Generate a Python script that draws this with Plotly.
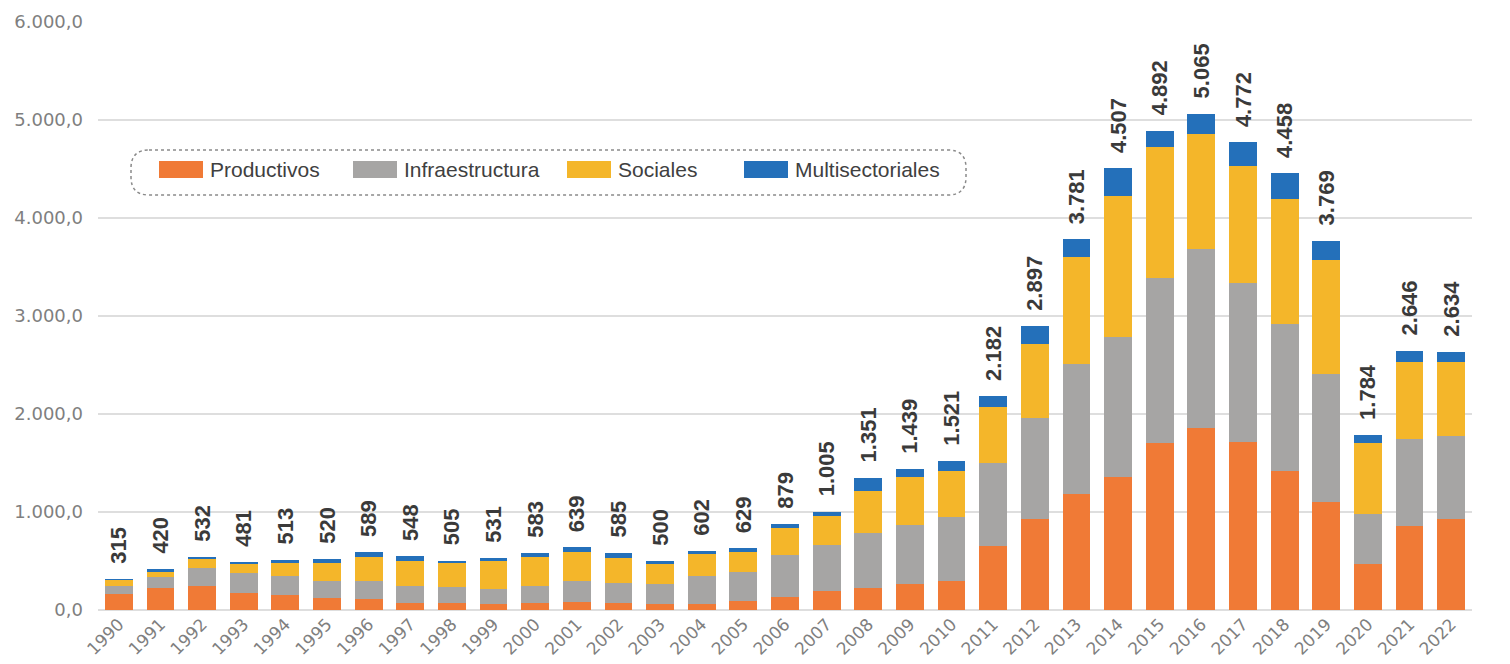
import plotly.graph_objects as go

years = [str(y) for y in range(1990, 2023)]
productivos = [165, 228, 245, 170, 153, 126, 109, 75, 75, 61, 75, 85, 75, 61, 65, 92, 136, 190, 228, 269, 296,
               656, 928, 1186, 1360, 1707, 1860, 1717, 1421, 1105, 472, 860, 928]
infraestructura = [80, 112, 180, 211, 197, 167, 190, 173, 156, 157, 173, 208, 200, 208, 278, 299, 428, 473, 561, 598, 656,
                   840, 1028, 1321, 1429, 1684, 1820, 1623, 1497, 1300, 511, 882, 851]
sociales = [65, 52, 98, 95, 133, 190, 245, 249, 252, 279, 296, 299, 255, 197, 225, 201, 276, 296, 425, 487, 466,
            571, 755, 1092, 1440, 1336, 1180, 1187, 1280, 1166, 724, 785, 755]
multisectoriales = [5, 28, 9, 5, 30, 37, 45, 51, 22, 34, 39, 47, 55, 34, 34, 37, 39, 46, 137, 85, 103,
                    115, 186, 182, 278, 165, 205, 245, 260, 198, 77, 119, 100]
totales = [315, 420, 532, 481, 513, 520, 589, 548, 505, 531, 583, 639, 585, 500, 602, 629, 879, 1005, 1351, 1439, 1521,
           2182, 2897, 3781, 4507, 4892, 5065, 4772, 4458, 3769, 1784, 2646, 2634]
series_names = ["Productivos", "Infraestructura", "Sociales", "Multisectoriales"]
colors = ["#F07A36", "#A6A5A4", "#F4B62A", "#2470BA"]

def fmt(v):
    return f"{v:,}".replace(",", ".")

labels = ["\u00a0\u00a0" + fmt(t) for t in totales]

fig = go.Figure()
for name, vals, col in zip(series_names, [productivos, infraestructura, sociales, multisectoriales], colors):
    kw = {}
    if name == "Multisectoriales":
        kw = dict(text=labels, textposition="outside", textangle=-90, constraintext="none",
                  cliponaxis=False,
                  textfont=dict(family="Liberation Sans, Arial, sans-serif", size=22, color="#3a3a3a", weight="bold"))
    fig.add_trace(go.Bar(x=years, y=vals, name=name, marker=dict(color=col, line=dict(width=0)),
                         showlegend=False, **kw))

# plot area in screen pixels: x 98..1472, y 22..610
def px(x):
    return (x - 98) / 1374

def py(y):
    return (610 - y) / 588

# rounded dotted legend frame
x0, x1 = px(131), px(966)
yt, yb = py(150), py(195)
rx, ry = 18 / 1374, 18 / 588
path = (f"M{x0+rx},{yt} L{x1-rx},{yt} Q{x1},{yt} {x1},{yt-ry} L{x1},{yb+ry} Q{x1},{yb} {x1-rx},{yb} "
        f"L{x0+rx},{yb} Q{x0},{yb} {x0},{yb+ry} L{x0},{yt-ry} Q{x0},{yt} {x0+rx},{yt} Z")
shapes = [dict(type="path", path=path, xref="paper", yref="paper",
               line=dict(color="#8a8a8a", width=1.5, dash="dot"), layer="above")]
annotations = []
sym_left = [159, 353, 567, 744]
for name, col, sx in zip(series_names, colors, sym_left):
    shapes.append(dict(type="rect", xref="paper", yref="paper", x0=px(sx), x1=px(sx + 44),
                       y0=py(178), y1=py(161), fillcolor=col, line=dict(width=0), layer="above"))
    annotations.append(dict(text=name, xref="paper", yref="paper", x=px(sx + 49), y=py(170),
                            xanchor="left", yanchor="middle", showarrow=False,
                            font=dict(family="Liberation Sans, sans-serif", size=21, color="#404040")))

fig.update_layout(
    barmode="stack",
    bargap=0.33,
    width=1502, height=656,
    margin=dict(l=90, r=38, t=14, b=54, autoexpand=False),
    paper_bgcolor="white", plot_bgcolor="white",
    separators=",.",
    shapes=shapes,
    annotations=annotations,
    xaxis=dict(type="category", tickangle=-45, showgrid=False, showline=False, ticks="", automargin=False,
               tickfont=dict(family="DejaVu Sans, sans-serif", size=17, color="#7f7f7f")),
    yaxis=dict(range=[0, 6000], dtick=1000, tickformat=",.1f", showgrid=True, gridcolor="#dedede", gridwidth=1.5,
               zeroline=True, zerolinecolor="#dedede", zerolinewidth=1.5, showline=False, ticks="",
               ticklabelstandoff=14, automargin=False,
               tickfont=dict(family="DejaVu Sans, sans-serif", size=18, color="#7f7f7f")),
)

fig.write_html("out.html")
